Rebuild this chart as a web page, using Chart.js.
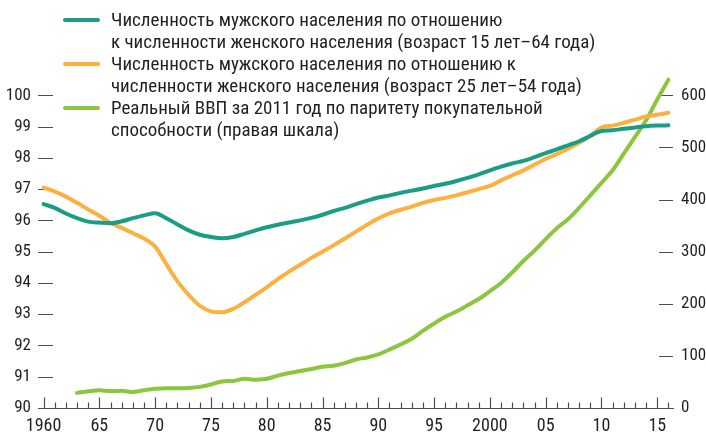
<!DOCTYPE html>
<html><head><meta charset="utf-8">
<script src="https://cdn.jsdelivr.net/npm/chart.js@4.4.0/dist/chart.umd.min.js"></script>
<style>
html,body{margin:0;padding:0;background:#fff;}
#wrap{position:relative;width:706px;height:435px;}
#c{position:absolute;left:0;top:0;}
#legend{position:absolute;left:0;top:0;width:706px;height:150px;font-family:'Roboto Condensed','Roboto',sans-serif;font-size:19px;color:#231f20;}
.item{position:absolute;left:111px;line-height:22px;white-space:nowrap;}
.sw{position:absolute;left:63px;width:37px;height:4px;border-radius:2px;}
</style></head><body>
<div id="wrap"><canvas id="c" width="706" height="435"></canvas><div id="legend"></div></div>
<script>
const years = [1960,1961,1962,1963,1964,1965,1966,1967,1968,1969,
  1970,1971,1972,1973,1974,1975,1976,1977,1978,1979,
  1980,1981,1982,1983,1984,1985,1986,1987,1988,1989,
  1990,1991,1992,1993,1994,1995,1996,1997,1998,1999,
  2000,2001,2002,2003,2004,2005,2006,2007,2008,2009,
  2010,2011,2012,2013,2014,2015,2016];
const ratio15to64 = [96.52,96.40,96.22,96.07,95.96,95.93,95.91,95.97,96.07,96.16,
  96.23,96.07,95.87,95.68,95.54,95.47,95.43,95.47,95.57,95.68,
  95.78,95.86,95.93,96.00,96.08,96.18,96.30,96.40,96.52,96.63,
  96.73,96.80,96.88,96.95,97.02,97.10,97.17,97.26,97.36,97.47,
  97.60,97.72,97.82,97.90,98.02,98.15,98.27,98.40,98.53,98.70,
  98.86,98.88,98.93,98.97,99.01,99.03,99.04];
const ratio25to54 = [97.05,96.92,96.76,96.56,96.35,96.15,95.92,95.76,95.59,95.42,
  95.16,94.60,94.05,93.62,93.27,93.09,93.06,93.17,93.38,93.62,
  93.86,94.12,94.36,94.58,94.80,95.00,95.20,95.42,95.64,95.86,
  96.06,96.22,96.34,96.44,96.56,96.65,96.72,96.80,96.90,97.00,
  97.10,97.28,97.44,97.60,97.78,97.96,98.12,98.29,98.48,98.70,
  98.97,99.03,99.12,99.22,99.32,99.38,99.44];
const gdpPPP = [null,null,null,29,32,34,32.5,33,30.5,34,
  37,38,38,38.5,40.5,45,51,52,56,54,
  56,62,67,71,75,79,81,86,93,97,
  103,112,122,133,148,162,175,185,197,209,
  224,240,260,282,302,324,345,362,384,408,
  432,456,488,520,552,592,630];
const leftTicks = [90,91,92,93,94,95,96,97,98,99,100];
const rightTicks = [0,100,200,300,400,500,600];
const xTickYears = [1960,1965,1970,1975,1980,1985,1990,1995,2000,2005,2010,2015];
const xTickLabels = ['1960','65','70','75','80','85','90','95','2000','05','10','15'];
const seriesLabels = [
  ['Численность мужского населения по отношению','к численности женского населения (возраст 15 лет–64 года)'],
  ['Численность мужского населения по отношению к','численности женского населения (возраст 25 лет–54 года)'],
  ['Реальный ВВП за 2011 год по паритету покупательной','способности (правая шкала)']
];
const seriesColors = ['#1a9c85','#fbb040','#8cc63f'];

const FONT = "'Roboto Condensed','Roboto',sans-serif";
const TXT = '#231f20';

function pts(vals){ return years.map((yr,i)=>({x:yr,y:vals[i]})); }

const axisMarks = {
  id:'axisMarks',
  beforeDatasetsDraw(chart){
    const {ctx, chartArea:a, scales} = chart;
    const x = scales.x, y = scales.y, y2 = scales.y2;
    ctx.save();
    ctx.strokeStyle = '#4d4d4f';
    ctx.lineWidth = 1.2;
    const by = Math.round(y.getPixelForValue(leftTicks[0])) + 0.5;
    ctx.beginPath();
    ctx.moveTo(a.left, by); ctx.lineTo(a.right, by);
    years.forEach(yr => {
      const px = Math.round(x.getPixelForValue(yr)) + 0.5;
      const len = xTickYears.includes(yr) ? 11 : 6;
      ctx.moveTo(px, by); ctx.lineTo(px, by - len);
    });
    leftTicks.slice(1).forEach(v => {
      const py = Math.round(y.getPixelForValue(v)) + 0.5;
      ctx.moveTo(a.left, py); ctx.lineTo(a.left + 15, py);
    });
    rightTicks.slice(1).forEach(v => {
      const py = Math.round(y2.getPixelForValue(v)) + 0.5;
      ctx.moveTo(a.right - 15, py); ctx.lineTo(a.right - 1, py);
    });
    ctx.stroke();
    ctx.restore();
  }
};

const chart = new Chart(document.getElementById('c'), {
  type:'line',
  data:{
    datasets:[
      {label:seriesLabels[0].join(' '), data:pts(ratio15to64), yAxisID:'y', borderColor:seriesColors[0]},
      {label:seriesLabels[1].join(' '), data:pts(ratio25to54), yAxisID:'y', borderColor:seriesColors[1]},
      {label:seriesLabels[2].join(' '), data:pts(gdpPPP), yAxisID:'y2', borderColor:seriesColors[2], spanGaps:false}
    ].map(d => Object.assign(d, {borderWidth:4, pointRadius:0, pointHoverRadius:0, fill:false,
      cubicInterpolationMode:'monotone', borderCapStyle:'round', borderJoinStyle:'round', clip:false}))
  },
  options:{
    responsive:false, animation:false, devicePixelRatio:1,
    layout:{padding:{top:64,left:0,right:0,bottom:0}},
    plugins:{legend:{display:false}, tooltip:{enabled:false}},
    scales:{
      x:{type:'linear', min:1959.5, max:2016.5, position:'bottom',
        grid:{display:false, drawTicks:false}, border:{display:false},
        afterBuildTicks:s=>{ s.ticks = xTickYears.map(v=>({value:v})); },
        afterFit:s=>{ s.height = 27; },
        ticks:{autoSkip:false, maxRotation:0, padding:8, color:TXT, font:{family:FONT,size:18},
          callback:(v,i)=>xTickLabels[i]}
      },
      y:{type:'linear', position:'left', min:90, max:101,
        grid:{display:false, drawTicks:false}, border:{display:false},
        afterBuildTicks:s=>{ s.ticks = leftTicks.map(v=>({value:v})); },
        afterFit:s=>{ s.width = 38; },
        ticks:{padding:7, color:TXT, font:{family:FONT,size:17}, callback:v=>String(v)}
      },
      y2:{type:'linear', position:'right', min:0, max:660,
        grid:{display:false, drawTicks:false}, border:{display:false},
        afterBuildTicks:s=>{ s.ticks = rightTicks.map(v=>({value:v})); },
        afterFit:s=>{ s.width = 32; },
        ticks:{padding:7, color:TXT, font:{family:FONT,size:17}, callback:v=>String(v)}
      }
    }
  },
  plugins:[axisMarks]
});

// HTML legend built from the series labels/colours
const leg = document.getElementById('legend');
const tops = [9,53,97];
seriesLabels.forEach((lines,i)=>{
  const sw = document.createElement('div');
  sw.className='sw'; sw.style.top=(tops[i]+9)+'px'; sw.style.background=seriesColors[i];
  leg.appendChild(sw);
  const it = document.createElement('div');
  it.className='item'; it.style.top=tops[i]+'px';
  it.innerHTML = lines.map(l=>'<div>'+l+'</div>').join('');
  leg.appendChild(it);
});
</script>
</body></html>
